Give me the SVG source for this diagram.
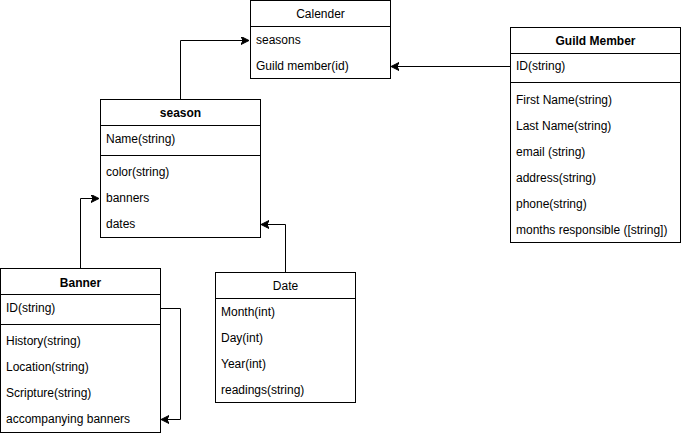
<svg xmlns="http://www.w3.org/2000/svg" width="681" height="436" viewBox="0 0 681 436">
  <defs>
    <marker id="arrow" markerWidth="10" markerHeight="10" refX="7" refY="4" orient="auto" markerUnits="userSpaceOnUse">
      <path d="M0,0 L8,4 L0,8 L2,4 Z" fill="#000" stroke="#000" stroke-width="1"/>
    </marker>
    <style>
      .box { fill: #fff; stroke: #000; stroke-width: 1; }
      .sep { stroke: #000; stroke-width: 1; }
      .title { font-family: "Liberation Sans", Arial, sans-serif; font-size: 12px; fill: #000; text-anchor: middle; }
      .bold { font-weight: bold; }
      .attr { font-family: "Liberation Sans", Arial, sans-serif; font-size: 12px; fill: #000; }
      .edge { fill: none; stroke: #000; stroke-width: 1; marker-end: url(#arrow); }
    </style>
  </defs>

  <rect width="681" height="436" fill="#fff"/>

  <!-- connectors -->
  <g id="connectors">
    <path class="edge" d="M180.5,99 V40.5 H248"/>
    <path class="edge" d="M510,66.5 H392"/>
    <path class="edge" d="M80.5,268 V198.5 H98"/>
    <path class="edge" d="M285.5,272 V224.5 H262"/>
    <path class="edge" d="M160,308.5 H180.5 V419.5 H162"/>
  </g>

  <!-- Calender -->
  <g id="calender">
    <rect class="box" x="250.5" y="0.5" width="140" height="78"/>
    <line class="sep" x1="250.5" y1="26.5" x2="390.5" y2="26.5"/>
    <text class="title" x="320.5" y="18">Calender</text>
    <text class="attr" x="256" y="44">seasons</text>
    <text class="attr" x="256" y="70">Guild member(id)</text>
  </g>

  <!-- Guild Member -->
  <g id="guild-member">
    <rect class="box" x="510.5" y="27.5" width="170" height="215"/>
    <line class="sep" x1="510.5" y1="53.5" x2="680.5" y2="53.5"/>
    <line class="sep" x1="510.5" y1="82.5" x2="680.5" y2="82.5"/>
    <text class="title bold" x="595.5" y="45">Guild Member</text>
    <text class="attr" x="516" y="70">ID(string)</text>
    <text class="attr" x="516" y="104">First Name(string)</text>
    <text class="attr" x="516" y="130">Last Name(string)</text>
    <text class="attr" x="516" y="156">email (string)</text>
    <text class="attr" x="516" y="182">address(string)</text>
    <text class="attr" x="516" y="208">phone(string)</text>
    <text class="attr" x="516" y="234">months responsible ([string])</text>
  </g>

  <!-- season -->
  <g id="season">
    <rect class="box" x="100.5" y="99.5" width="160" height="138"/>
    <line class="sep" x1="100.5" y1="125.5" x2="260.5" y2="125.5"/>
    <line class="sep" x1="100.5" y1="155.5" x2="260.5" y2="155.5"/>
    <text class="title bold" x="180.5" y="117">season</text>
    <text class="attr" x="106" y="143">Name(string)</text>
    <text class="attr" x="106" y="176">color(string)</text>
    <text class="attr" x="106" y="202">banners</text>
    <text class="attr" x="106" y="228">dates</text>
  </g>

  <!-- Banner -->
  <g id="banner">
    <rect class="box" x="0.5" y="268.5" width="160" height="164"/>
    <line class="sep" x1="0.5" y1="294.5" x2="160.5" y2="294.5"/>
    <line class="sep" x1="0.5" y1="324.5" x2="160.5" y2="324.5"/>
    <text class="title bold" x="80.5" y="287">Banner</text>
    <text class="attr" x="6" y="312">ID(string)</text>
    <text class="attr" x="6" y="345">History(string)</text>
    <text class="attr" x="6" y="371">Location(string)</text>
    <text class="attr" x="6" y="397">Scripture(string)</text>
    <text class="attr" x="6" y="423">accompanying banners</text>
  </g>

  <!-- Date -->
  <g id="date">
    <rect class="box" x="215.5" y="272.5" width="140" height="130"/>
    <line class="sep" x1="215.5" y1="298.5" x2="355.5" y2="298.5"/>
    <text class="title" x="285.5" y="290">Date</text>
    <text class="attr" x="221" y="316">Month(int)</text>
    <text class="attr" x="221" y="342">Day(int)</text>
    <text class="attr" x="221" y="368">Year(int)</text>
    <text class="attr" x="221" y="394">readings(string)</text>
  </g>
</svg>
